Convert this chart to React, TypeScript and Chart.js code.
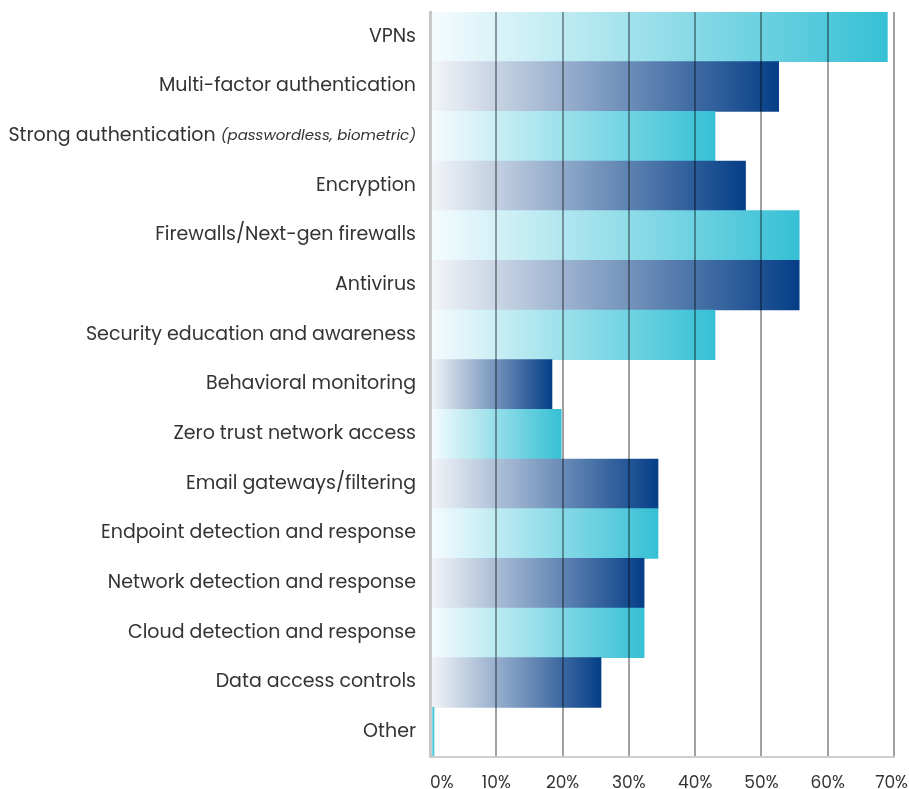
import React, { useEffect, useRef } from "react";
import { Chart, registerables } from "chart.js";

Chart.register(...registerables);

const categories = [
  "VPNs",
  "Multi-factor authentication",
  "Strong authentication",
  "Encryption",
  "Firewalls/Next-gen firewalls",
  "Antivirus",
  "Security education and awareness",
  "Behavioral monitoring",
  "Zero trust network access",
  "Email gateways/filtering",
  "Endpoint detection and response",
  "Network detection and response",
  "Cloud detection and response",
  "Data access controls",
  "Other",
];
const labelNotes = ["", "", "(passwordless, biometric)", "", "", "", "", "", "", "", "", "", "", "", ""];
const values = [69, 52.6, 43, 47.6, 55.7, 55.7, 43, 18.4, 19.8, 34.4, 34.4, 32.3, 32.3, 25.8, 0.6];
const xTicks = [0, 10, 20, 30, 40, 50, 60, 70];

const LIGHT = ["#F6FCFE", "#36C0D5"];
const DARK = ["#F4F6F9", "#053E87"];
const FONT = "Poppins, 'Open Sans', sans-serif";

export default function App() {
  const ref = useRef<HTMLCanvasElement>(null);
  useEffect(() => {
    if (!ref.current) return;
    const labelPlugin = {
      id: "axislabels",
      afterDraw(chart: any) {
        const ctx = chart.ctx;
        const y = chart.scales.y;
        const xs = chart.scales.x;
        const right = chart.chartArea.left - 14;
        ctx.save();
        ctx.textBaseline = "middle";
        ctx.fillStyle = "#333333";
        categories.forEach((c, i) => {
          const py = y.getPixelForValue(i);
          let x = right;
          const note = labelNotes[i];
          if (note) {
            ctx.font = `italic 15px ${FONT}`;
            ctx.textAlign = "right";
            ctx.fillText(note, x, py);
            x -= ctx.measureText(note).width + 5;
          }
          ctx.font = `19px ${FONT}`;
          ctx.textAlign = "right";
          ctx.fillText(c, x, py);
        });
        ctx.font = `17px ${FONT}`;
        const ty = chart.chartArea.bottom + 27;
        xTicks.forEach((v, i) => {
          const t = `${v}%`;
          const w = ctx.measureText(t).width;
          let px = xs.getPixelForValue(v) - w / 2;
          if (i === 0) px = xs.getPixelForValue(v);
          px = Math.min(px, chart.width - 1 - w);
          ctx.textAlign = "left";
          ctx.fillText(t, px, ty);
        });
        ctx.restore();
      },
    };
    const chart = new Chart(ref.current, {
      type: "bar",
      data: {
        labels: categories,
        datasets: [
          {
            data: values,
            barPercentage: 1,
            categoryPercentage: 1,
            borderWidth: 0,
            backgroundColor: (ctx: any) => {
              const ch = ctx.chart;
              const area = ch.chartArea;
              const pal = ctx.dataIndex % 2 === 0 ? LIGHT : DARK;
              if (!area) return pal[1];
              const xs = ch.scales.x;
              const x0 = xs.getPixelForValue(0);
              const x1 = xs.getPixelForValue(values[ctx.dataIndex]);
              const g = ch.ctx.createLinearGradient(x0, 0, Math.max(x1, x0 + 1), 0);
              g.addColorStop(0, pal[0]);
              g.addColorStop(1, pal[1]);
              return g;
            },
          },
        ],
      },
      options: {
        indexAxis: "y",
        animation: false,
        responsive: false,
        maintainAspectRatio: false,
        layout: { padding: { top: 12, right: 15, bottom: 0, left: 0 } },
        plugins: { legend: { display: false }, tooltip: { enabled: false } },
        scales: {
          x: {
            min: 0,
            max: 70,
            afterBuildTicks: (s: any) => {
              s.ticks = xTicks.map((v) => ({ value: v }));
            },
            afterFit: (s: any) => {
              s.height = 32;
            },
            grid: { color: "rgba(0,0,0,0.37)", lineWidth: 2, z: 1, drawTicks: false },
            border: { display: true, color: "#d0d0d0", width: 2, z: 2 },
            ticks: { display: false },
          },
          y: {
            afterFit: (s: any) => {
              s.width = 430;
            },
            grid: { display: false },
            border: { display: true, color: "#c8c8c8", width: 3, z: 2 },
            ticks: { display: false },
          },
        },
      },
      plugins: [labelPlugin],
    });
    return () => chart.destroy();
  }, []);
  return (
    <div style={{ position: "fixed", left: 0, top: 0, width: 909, height: 789, background: "#fff" }}>
      <canvas ref={ref} width={909} height={789} style={{ display: "block" }} />
    </div>
  );
}
